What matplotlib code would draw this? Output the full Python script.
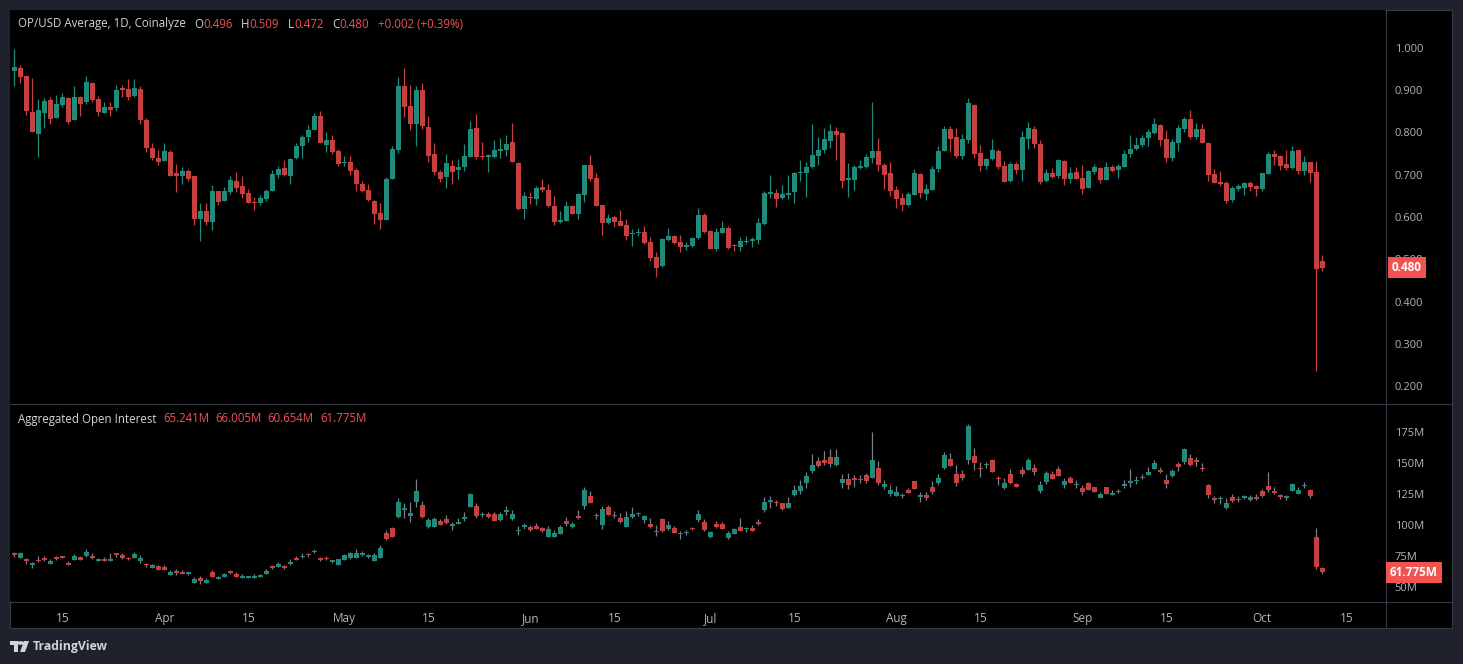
import numpy as np
import pandas as pd
import matplotlib
matplotlib.use("Agg")
import matplotlib.pyplot as plt
import matplotlib.dates as mdates
import matplotlib.transforms as mtrans
from matplotlib.patches import Rectangle, Circle, Polygon
from matplotlib.lines import Line2D

# ---------------- data ----------------
start_date = "2025-03-07"

price_open = [0.946, 0.953, 0.934, 0.849, 0.797, 0.847, 0.877, 0.835, 0.864, 0.882,
              0.830, 0.884, 0.873, 0.917, 0.879, 0.847, 0.860, 0.859, 0.905, 0.903,
              0.887, 0.903, 0.830, 0.764, 0.740, 0.733, 0.755, 0.704, 0.698, 0.709,
              0.696, 0.596, 0.614, 0.589, 0.662, 0.639, 0.660, 0.685, 0.673, 0.657,
              0.636, 0.632, 0.643, 0.662, 0.700, 0.716, 0.698, 0.740, 0.767, 0.789,
              0.807, 0.839, 0.771, 0.782, 0.756, 0.727, 0.730, 0.711, 0.678, 0.664,
              0.638, 0.609, 0.594, 0.691, 0.759, 0.910, 0.863, 0.819, 0.901, 0.813,
              0.749, 0.707, 0.695, 0.721, 0.712, 0.719, 0.743, 0.811, 0.744, 0.743,
              0.743, 0.757, 0.759, 0.777, 0.728, 0.619, 0.647, 0.643, 0.671, 0.664,
              0.626, 0.588, 0.591, 0.626, 0.608, 0.652, 0.723, 0.692, 0.628, 0.586,
              0.600, 0.590, 0.581, 0.560, 0.562, 0.564, 0.541, 0.505, 0.485, 0.546,
              0.555, 0.541, 0.528, 0.532, 0.551, 0.605, 0.567, 0.525, 0.563, 0.574,
              0.534, 0.530, 0.541, 0.544, 0.546, 0.584, 0.655, 0.657, 0.646, 0.653,
              0.658, 0.703, 0.705, 0.718, 0.745, 0.759, 0.780, 0.804, 0.799, 0.687,
              0.688, 0.716, 0.718, 0.740, 0.756, 0.723, 0.704, 0.664, 0.645, 0.628,
              0.652, 0.702, 0.654, 0.664, 0.714, 0.756, 0.808, 0.789, 0.744, 0.782,
              0.865, 0.751, 0.721, 0.737, 0.756, 0.721, 0.685, 0.725, 0.711, 0.785,
              0.808, 0.773, 0.685, 0.704, 0.697, 0.733, 0.690, 0.707, 0.692, 0.669,
              0.707, 0.716, 0.688, 0.718, 0.711, 0.718, 0.749, 0.761, 0.770, 0.787,
              0.799, 0.818, 0.785, 0.740, 0.775, 0.808, 0.832, 0.789, 0.808, 0.775,
              0.702, 0.683, 0.681, 0.640, 0.666, 0.669, 0.681, 0.673, 0.666, 0.702,
              0.749, 0.744, 0.725, 0.716, 0.759, 0.709, 0.730, 0.707, 0.496]
price_high = [0.998, 0.960, 0.936, 0.929, 0.879, 0.881, 0.883, 0.889, 0.894, 0.883,
              0.910, 0.886, 0.934, 0.920, 0.886, 0.872, 0.872, 0.912, 0.912, 0.927,
              0.927, 0.910, 0.834, 0.776, 0.759, 0.774, 0.759, 0.725, 0.719, 0.714,
              0.696, 0.634, 0.632, 0.676, 0.662, 0.671, 0.696, 0.707, 0.697, 0.666,
              0.647, 0.652, 0.666, 0.711, 0.721, 0.735, 0.740, 0.775, 0.794, 0.818,
              0.846, 0.851, 0.801, 0.794, 0.761, 0.744, 0.744, 0.716, 0.685, 0.678,
              0.640, 0.632, 0.695, 0.768, 0.931, 0.953, 0.912, 0.910, 0.917, 0.839,
              0.775, 0.711, 0.749, 0.735, 0.737, 0.773, 0.827, 0.844, 0.777, 0.749,
              0.782, 0.787, 0.794, 0.822, 0.730, 0.659, 0.659, 0.673, 0.690, 0.678,
              0.650, 0.614, 0.638, 0.628, 0.657, 0.723, 0.747, 0.704, 0.628, 0.607,
              0.602, 0.617, 0.595, 0.572, 0.574, 0.579, 0.553, 0.517, 0.550, 0.574,
              0.557, 0.557, 0.541, 0.553, 0.621, 0.610, 0.569, 0.574, 0.591, 0.579,
              0.537, 0.553, 0.555, 0.553, 0.598, 0.662, 0.699, 0.666, 0.676, 0.699,
              0.707, 0.735, 0.730, 0.820, 0.789, 0.811, 0.820, 0.813, 0.801, 0.728,
              0.723, 0.735, 0.749, 0.872, 0.787, 0.728, 0.730, 0.673, 0.657, 0.659,
              0.714, 0.704, 0.678, 0.721, 0.768, 0.815, 0.815, 0.811, 0.796, 0.882,
              0.868, 0.770, 0.740, 0.785, 0.761, 0.733, 0.730, 0.730, 0.804, 0.825,
              0.815, 0.782, 0.714, 0.716, 0.737, 0.735, 0.718, 0.718, 0.723, 0.711,
              0.725, 0.718, 0.730, 0.723, 0.725, 0.759, 0.794, 0.789, 0.794, 0.808,
              0.834, 0.820, 0.806, 0.785, 0.818, 0.837, 0.853, 0.822, 0.820, 0.777,
              0.714, 0.709, 0.685, 0.673, 0.678, 0.683, 0.685, 0.676, 0.704, 0.754,
              0.759, 0.747, 0.759, 0.768, 0.761, 0.744, 0.730, 0.733, 0.509]
price_low = [0.911, 0.918, 0.842, 0.802, 0.743, 0.811, 0.821, 0.835, 0.861, 0.821,
             0.830, 0.838, 0.868, 0.871, 0.840, 0.847, 0.840, 0.852, 0.885, 0.878,
             0.885, 0.821, 0.755, 0.736, 0.722, 0.733, 0.698, 0.658, 0.679, 0.686,
             0.582, 0.544, 0.582, 0.570, 0.629, 0.639, 0.655, 0.660, 0.646, 0.634,
             0.617, 0.629, 0.639, 0.662, 0.693, 0.698, 0.677, 0.737, 0.740, 0.778,
             0.807, 0.774, 0.754, 0.750, 0.721, 0.721, 0.700, 0.662, 0.658, 0.639,
             0.584, 0.572, 0.594, 0.691, 0.752, 0.837, 0.807, 0.769, 0.809, 0.729,
             0.700, 0.684, 0.669, 0.677, 0.691, 0.710, 0.743, 0.738, 0.738, 0.707,
             0.740, 0.740, 0.744, 0.729, 0.617, 0.595, 0.631, 0.628, 0.659, 0.624,
             0.580, 0.586, 0.591, 0.608, 0.596, 0.636, 0.685, 0.626, 0.557, 0.583,
             0.576, 0.579, 0.546, 0.531, 0.555, 0.535, 0.497, 0.459, 0.482, 0.544,
             0.536, 0.517, 0.523, 0.530, 0.549, 0.562, 0.525, 0.520, 0.563, 0.525,
             0.520, 0.520, 0.537, 0.530, 0.535, 0.580, 0.646, 0.624, 0.643, 0.643,
             0.634, 0.686, 0.648, 0.716, 0.722, 0.752, 0.763, 0.735, 0.669, 0.647,
             0.664, 0.714, 0.716, 0.728, 0.709, 0.666, 0.650, 0.621, 0.614, 0.626,
             0.652, 0.646, 0.640, 0.664, 0.706, 0.756, 0.754, 0.740, 0.737, 0.775,
             0.740, 0.709, 0.714, 0.735, 0.714, 0.683, 0.683, 0.702, 0.685, 0.761,
             0.763, 0.678, 0.683, 0.692, 0.692, 0.676, 0.681, 0.690, 0.654, 0.669,
             0.702, 0.681, 0.688, 0.706, 0.692, 0.718, 0.742, 0.759, 0.766, 0.768,
             0.796, 0.768, 0.730, 0.733, 0.756, 0.801, 0.785, 0.785, 0.775, 0.685,
             0.681, 0.673, 0.633, 0.635, 0.662, 0.652, 0.662, 0.650, 0.662, 0.702,
             0.723, 0.711, 0.711, 0.714, 0.702, 0.699, 0.683, 0.236, 0.472]
price_close = [0.955, 0.932, 0.852, 0.802, 0.853, 0.875, 0.833, 0.867, 0.884, 0.826,
               0.884, 0.868, 0.920, 0.877, 0.849, 0.860, 0.854, 0.901, 0.901, 0.885,
               0.905, 0.830, 0.764, 0.740, 0.731, 0.756, 0.698, 0.698, 0.709, 0.691,
               0.596, 0.614, 0.589, 0.662, 0.636, 0.662, 0.688, 0.669, 0.655, 0.634,
               0.632, 0.644, 0.662, 0.702, 0.714, 0.699, 0.737, 0.768, 0.789, 0.806,
               0.839, 0.774, 0.782, 0.755, 0.726, 0.730, 0.710, 0.677, 0.662, 0.641,
               0.608, 0.594, 0.690, 0.761, 0.910, 0.861, 0.821, 0.901, 0.816, 0.745,
               0.707, 0.691, 0.728, 0.707, 0.718, 0.744, 0.808, 0.743, 0.741, 0.746,
               0.759, 0.761, 0.773, 0.729, 0.619, 0.650, 0.645, 0.669, 0.664, 0.626,
               0.589, 0.593, 0.626, 0.608, 0.654, 0.723, 0.690, 0.626, 0.586, 0.598,
               0.588, 0.579, 0.555, 0.562, 0.564, 0.539, 0.504, 0.480, 0.548, 0.555,
               0.539, 0.528, 0.534, 0.550, 0.605, 0.565, 0.525, 0.565, 0.574, 0.527,
               0.531, 0.543, 0.544, 0.548, 0.586, 0.657, 0.659, 0.643, 0.654, 0.657,
               0.704, 0.707, 0.718, 0.747, 0.759, 0.785, 0.804, 0.794, 0.685, 0.692,
               0.718, 0.721, 0.742, 0.756, 0.723, 0.699, 0.662, 0.643, 0.628, 0.654,
               0.704, 0.657, 0.666, 0.714, 0.756, 0.808, 0.785, 0.744, 0.785, 0.870,
               0.749, 0.721, 0.737, 0.759, 0.718, 0.683, 0.725, 0.711, 0.789, 0.811,
               0.773, 0.683, 0.704, 0.695, 0.735, 0.690, 0.704, 0.690, 0.666, 0.709,
               0.718, 0.688, 0.718, 0.709, 0.721, 0.749, 0.761, 0.770, 0.787, 0.801,
               0.820, 0.782, 0.740, 0.777, 0.811, 0.832, 0.789, 0.808, 0.775, 0.699,
               0.681, 0.678, 0.638, 0.669, 0.673, 0.681, 0.671, 0.666, 0.704, 0.749,
               0.742, 0.721, 0.716, 0.756, 0.709, 0.730, 0.704, 0.478, 0.480]

oi_open = [76.6, 73.6, 71.8, 68.0, 72.0, 73.6, 68.8, 73.6, 75.0, 69.4,
           71.8, 74.2, 75.0, 75.2, 71.3, 72.6, 71.0, 76.6, 75.8, 73.4,
           73.4, 71.0, 68.2, 65.6, 66.9, 66.1, 59.7, 62.4, 62.4, 60.7,
           53.2, 57.2, 53.2, 62.1, 56.7, 58.1, 62.4, 60.5, 57.2, 57.5,
           57.5, 58.1, 60.5, 66.4, 66.1, 66.9, 68.5, 72.6, 74.2, 76.6,
           79.0, 73.4, 73.4, 70.4, 67.7, 71.8, 73.4, 73.4, 75.8, 74.5,
           71.0, 73.4, 93.5, 97.6, 106.4, 112.4, 107.3, 118.5, 116.1, 98.4,
           98.4, 103.2, 104.8, 99.5, 100.8, 104.8, 114.5, 115.3, 107.8, 108.9,
           108.9, 104.0, 110.8, 104.8, 94.9, 98.6, 98.4, 99.2, 97.6, 90.3,
           90.3, 92.7, 103.2, 98.4, 107.3, 115.3, 123.4, 108.1, 100.0, 114.5,
           108.1, 105.6, 98.4, 106.4, 109.4, 104.0, 100.8, 95.2, 104.8, 96.8,
           97.6, 93.5, 93.5, 97.6, 104.0, 102.4, 90.3, 100.8, 100.8, 89.5,
           92.7, 98.4, 96.5, 97.6, 101.6, 112.1, 118.8, 118.3, 117.5, 113.7,
           124.2, 127.4, 133.9, 143.5, 151.6, 152.4, 154.8, 148.4, 133.9, 137.1,
           137.9, 137.1, 140.3, 137.9, 146.0, 130.7, 125.0, 123.4, 123.4, 128.2,
           135.5, 122.9, 124.2, 130.7, 133.9, 146.0, 153.2, 141.1, 141.1, 152.4,
           155.6, 145.4, 148.1, 152.4, 137.4, 129.9, 141.1, 133.1, 144.3, 144.3,
           146.0, 127.4, 134.7, 141.1, 145.2, 132.3, 137.9, 132.0, 129.9, 133.9,
           130.7, 121.8, 130.7, 124.5, 126.4, 131.7, 134.2, 135.5, 137.9, 140.3,
           145.2, 144.3, 136.3, 139.5, 149.2, 150.8, 154.0, 151.9, 146.0, 132.3,
           121.0, 120.7, 113.7, 122.6, 121.2, 122.1, 120.2, 122.1, 127.4, 131.5,
           127.4, 123.7, 122.1, 127.4, 125.0, 131.5, 128.2, 90.3, 65.241]
oi_high = [78.2, 78.2, 73.4, 70.2, 75.0, 75.0, 72.9, 75.0, 75.0, 71.0,
           76.6, 75.0, 80.6, 77.4, 73.4, 74.2, 77.4, 76.6, 77.4, 74.2,
           78.2, 75.8, 69.4, 68.5, 67.7, 67.7, 63.7, 64.5, 63.7, 62.4,
           58.1, 58.9, 57.2, 63.7, 58.9, 61.3, 63.7, 62.1, 60.5, 58.9,
           60.5, 60.5, 64.5, 67.7, 70.2, 67.7, 72.6, 75.0, 77.4, 77.4,
           80.6, 74.2, 75.0, 71.0, 72.6, 76.6, 78.2, 80.6, 79.0, 76.6,
           77.4, 83.8, 96.0, 98.4, 121.8, 117.7, 118.5, 137.1, 119.3, 105.6,
           106.4, 104.8, 108.1, 102.4, 105.6, 110.5, 125.8, 117.7, 110.5, 110.5,
           110.5, 110.5, 115.3, 112.1, 99.2, 101.6, 100.0, 101.6, 98.4, 99.2,
           96.0, 100.0, 106.4, 102.4, 112.1, 130.6, 127.4, 109.7, 115.3, 116.1,
           111.3, 109.7, 111.3, 114.5, 110.5, 108.1, 105.6, 100.0, 105.6, 103.2,
           99.2, 95.2, 96.0, 98.4, 112.1, 104.8, 95.2, 103.2, 102.4, 95.2,
           97.6, 105.6, 98.4, 100.0, 104.8, 122.6, 123.4, 120.2, 117.7, 122.6,
           132.3, 136.3, 142.7, 157.3, 154.8, 159.7, 161.3, 161.3, 141.1, 141.9,
           140.3, 140.3, 141.9, 175.0, 151.6, 136.3, 132.3, 131.5, 125.8, 129.9,
           135.5, 126.6, 126.6, 135.5, 141.1, 158.9, 158.1, 148.4, 144.3, 181.5,
           162.1, 150.8, 150.8, 153.2, 139.5, 137.9, 145.2, 133.9, 146.8, 154.0,
           149.2, 135.5, 143.5, 143.5, 147.6, 137.9, 139.5, 136.3, 132.3, 134.7,
           130.7, 126.6, 130.7, 128.2, 129.0, 136.3, 145.2, 139.5, 141.1, 146.8,
           152.4, 146.8, 141.1, 145.2, 150.8, 162.1, 157.3, 154.8, 150.0, 133.1,
           123.4, 123.4, 121.8, 125.0, 123.4, 124.2, 124.2, 125.0, 129.0, 142.7,
           130.7, 125.0, 124.2, 133.9, 130.7, 134.7, 129.0, 97.6, 66.005]
oi_low = [73.9, 73.4, 68.8, 65.6, 70.4, 71.2, 68.8, 72.0, 73.4, 67.7,
          71.8, 71.8, 74.2, 72.6, 71.3, 71.0, 71.0, 73.9, 72.6, 71.8,
          73.4, 69.4, 66.4, 65.6, 63.9, 63.9, 59.7, 59.9, 60.7, 59.7,
          53.2, 52.7, 53.2, 58.1, 56.7, 58.1, 60.5, 58.1, 57.2, 57.2,
          57.2, 58.1, 60.5, 64.5, 66.1, 64.5, 67.7, 71.8, 73.4, 74.2,
          77.4, 71.0, 71.8, 69.4, 67.7, 71.8, 72.6, 73.4, 75.0, 73.4,
          71.0, 73.4, 87.9, 90.3, 105.6, 105.6, 102.4, 114.5, 105.6, 97.6,
          98.4, 100.0, 100.8, 96.0, 100.8, 103.2, 114.5, 105.6, 106.4, 105.6,
          103.2, 103.2, 108.1, 104.0, 91.9, 96.8, 95.2, 96.8, 94.4, 90.3,
          90.3, 92.7, 99.2, 97.6, 104.8, 112.9, 117.7, 104.8, 96.8, 108.1,
          105.6, 101.6, 98.4, 105.6, 107.3, 101.6, 97.6, 91.1, 94.4, 96.0,
          93.5, 88.7, 91.9, 96.0, 102.4, 95.2, 89.5, 97.6, 96.8, 88.7,
          92.7, 95.2, 94.4, 95.2, 100.0, 110.5, 113.7, 115.3, 112.1, 113.7,
          123.4, 125.0, 129.9, 141.9, 146.8, 148.4, 146.8, 147.6, 129.9, 129.1,
          130.7, 133.9, 133.9, 137.9, 132.3, 129.1, 123.4, 123.4, 121.8, 125.8,
          129.0, 118.5, 120.2, 125.0, 132.3, 145.2, 147.6, 131.5, 136.3, 149.2,
          144.3, 138.7, 146.0, 142.7, 132.3, 129.0, 133.1, 130.7, 139.5, 144.3,
          140.3, 125.8, 133.1, 137.1, 139.5, 129.9, 133.9, 129.9, 124.2, 128.2,
          126.6, 121.8, 125.0, 124.2, 125.8, 129.9, 130.7, 133.1, 137.1, 140.3,
          145.2, 141.9, 129.9, 138.7, 143.5, 149.2, 147.6, 147.6, 143.5, 121.8,
          117.7, 117.0, 112.9, 118.5, 118.5, 121.0, 119.4, 120.2, 122.6, 126.6,
          125.0, 121.0, 120.2, 127.4, 125.0, 129.9, 121.8, 64.5, 60.654]
oi_close = [76.1, 77.4, 71.3, 68.8, 71.0, 72.0, 71.0, 72.9, 73.6, 68.0,
            75.0, 71.8, 78.2, 73.4, 71.8, 71.0, 72.6, 76.1, 73.4, 72.6,
            76.6, 73.4, 67.7, 67.7, 63.9, 63.9, 62.1, 61.6, 60.7, 61.3,
            56.4, 54.8, 55.6, 58.1, 57.5, 60.5, 61.6, 58.1, 58.9, 58.1,
            58.3, 59.7, 62.9, 65.6, 68.5, 65.3, 70.2, 72.0, 75.0, 75.8,
            78.2, 71.8, 72.6, 71.0, 72.6, 75.8, 77.4, 77.4, 77.4, 75.3,
            75.8, 81.4, 88.7, 90.6, 118.5, 112.9, 109.7, 127.4, 106.4, 104.0,
            104.8, 100.0, 101.6, 100.0, 102.4, 106.4, 125.0, 107.3, 108.6, 106.4,
            103.2, 108.9, 111.6, 108.9, 95.7, 99.4, 96.0, 96.8, 95.2, 96.8,
            93.5, 98.4, 100.8, 100.8, 105.6, 128.2, 117.7, 107.3, 112.9, 108.1,
            107.3, 102.4, 106.4, 108.9, 108.6, 107.3, 98.4, 94.1, 95.2, 100.0,
            93.5, 92.7, 94.6, 96.5, 108.9, 96.0, 94.4, 98.4, 96.8, 93.5,
            96.8, 95.2, 96.8, 95.2, 101.1, 118.5, 119.6, 117.5, 112.9, 117.7,
            128.2, 131.5, 139.5, 148.4, 147.6, 150.0, 149.2, 154.8, 137.1, 132.3,
            136.3, 136.3, 135.5, 152.4, 133.9, 133.1, 128.2, 126.6, 124.2, 125.8,
            129.0, 124.0, 121.8, 126.6, 137.9, 156.5, 147.6, 133.9, 137.9, 179.8,
            150.0, 144.9, 148.9, 142.7, 136.9, 133.9, 133.9, 130.7, 141.1, 152.4,
            142.7, 132.3, 141.9, 137.1, 139.5, 135.5, 133.9, 132.8, 126.6, 128.2,
            126.6, 125.0, 125.0, 125.3, 127.2, 132.5, 134.9, 136.3, 138.7, 142.7,
            150.0, 142.7, 133.1, 143.5, 146.8, 161.3, 148.4, 151.1, 145.2, 124.2,
            120.4, 121.2, 117.7, 119.3, 120.2, 122.9, 122.6, 121.2, 123.4, 128.2,
            126.1, 122.9, 122.9, 133.1, 128.2, 132.3, 123.4, 66.1, 61.775]

tick_dates = ["2025-03-15", "2025-04-01", "2025-04-15", "2025-05-01", "2025-05-15",
              "2025-06-01", "2025-06-15", "2025-07-01", "2025-07-15", "2025-08-01",
              "2025-08-15", "2025-09-01", "2025-09-15", "2025-10-01", "2025-10-15"]
tick_labels = ["15", "Apr", "15", "May", "15", "Jun", "15", "Jul", "15", "Aug",
               "15", "Sep", "15", "Oct", "15"]
price_ticks = [0.2, 0.3, 0.4, 0.5, 0.6, 0.7, 0.8, 0.9, 1.0]
oi_ticks = [50, 75, 100, 125, 150, 175]

title_text = "OP/USD Average, 1D, Coinalyze"
change_text = "+0.002 (+0.39%)"
oi_title = "Aggregated Open Interest"

# ---------------- style ----------------
W, H = 1463, 664
BG = "#1f222d"
UP = "#1f8c7b"
DOWN = "#c5403f"
TXT = "#d1d4dc"
AXTXT = "#b2b5be"
RED_TXT = "#f0525a"
LINE = "#363a45"
FONT = "Open Sans"

fig = plt.figure(figsize=(W / 100, H / 100), dpi=100, facecolor=BG)


def fx(px):
    return px / W


def fy(py):
    return 1 - py / H


# black chart frame (behind the axes)
frame = Rectangle((fx(10), fy(628)), fx(1442), 618 / H, transform=fig.transFigure,
                  facecolor="black", edgecolor=LINE, lw=0.8, zorder=-10)
fig.patches.append(frame)

ax1 = fig.add_axes([fx(10), fy(403), fx(1375), 393 / H])
ax2 = fig.add_axes([fx(10), fy(601), fx(1375), 198 / H], sharex=ax1)

dates = pd.date_range(start_date, periods=len(price_open), freq="D")
xs = mdates.date2num(dates)


def draw_candles(ax, x, o, h, l, c, wick=None, min_h=0.0):
    o, h, l, c = map(np.asarray, (o, h, l, c))
    cols = np.where(c >= o, UP, DOWN)
    wcols = cols if wick is None else wick
    ax.vlines(x, l, h, colors=wcols, lw=0.9, zorder=2)
    bottom = np.minimum(o, c)
    height = np.maximum(np.abs(c - o), min_h)
    ax.bar(x, height, bottom=bottom, width=0.82, color=cols, lw=0, zorder=3)


draw_candles(ax1, xs, price_open, price_high, price_low, price_close, min_h=0.003)
draw_candles(ax2, xs, oi_open, oi_high, oi_low, oi_close, wick="#7c7f88", min_h=1.0)

for ax in (ax1, ax2):
    ax.set_facecolor("black")
    for s in ax.spines.values():
        s.set_visible(False)
    ax.yaxis.tick_right()
    ax.tick_params(axis="y", length=0, pad=7, colors=AXTXT, labelsize=8)

ax1.set_xlim(xs[0] - 0.72, xs[0] + 228.45)
ax1.set_ylim(0.1598, 1.0899)
ax2.set_ylim(38.71, 198.39)

ax1.set_yticks(price_ticks)
ax1.set_yticklabels([f"{v:.3f}" for v in price_ticks], family=FONT)
ax2.set_yticks(oi_ticks)
ax2.set_yticklabels([f"{v}M" for v in oi_ticks], family=FONT)

ax2.set_xticks(mdates.date2num(pd.to_datetime(tick_dates)))
ax2.set_xticklabels(tick_labels, family=FONT)
ax2.tick_params(axis="x", length=0, pad=8, colors=AXTXT, labelsize=8.5)
ax1.tick_params(axis="x", length=0, labelbottom=False)

# separators
for (x0, y0, x1, y1) in [(1385.5, 10, 1385.5, 628), (10, 403.5, 1452, 403.5), (10, 601.5, 1452, 601.5)]:
    fig.add_artist(Line2D([fx(x0), fx(x1)], [fy(y0), fy(y1)], color=LINE, lw=0.8, transform=fig.transFigure))

# last value labels
tr1 = mtrans.blended_transform_factory(fig.transFigure, ax1.transData)
fig.text(fx(1407), price_close[-1], f"{price_close[-1]:.3f}", transform=tr1, ha="center", va="center",
         color="white", fontsize=8.5, fontweight="bold", family=FONT, zorder=10,
         bbox=dict(boxstyle="square,pad=0.33", fc="#f05350", ec="none"))
tr2 = mtrans.blended_transform_factory(fig.transFigure, ax2.transData)
fig.text(fx(1414), oi_close[-1], f"{oi_close[-1]:.3f}M", transform=tr2, ha="center", va="center",
         color="white", fontsize=8.5, fontweight="bold", family=FONT, zorder=10,
         bbox=dict(boxstyle="square,pad=0.33", fc="#f05350", ec="none"))

renderer = fig.canvas.get_renderer()


def chain(x_px, y_px, segs, size):
    cur = x_px
    for text, color, gap in segs:
        cur += gap
        t = fig.text(fx(cur), fy(y_px), text, color=color, fontsize=size, family=FONT,
                     ha="left", va="center")
        cur += t.get_window_extent(renderer).width


chain(18, 24, [(title_text, TXT, 0),
               ("O", TXT, 8), (f"{price_open[-1]:.3f}", RED_TXT, 0),
               ("H", TXT, 9), (f"{price_high[-1]:.3f}", RED_TXT, 0),
               ("L", TXT, 9), (f"{price_low[-1]:.3f}", RED_TXT, 0),
               ("C", TXT, 9), (f"{price_close[-1]:.3f}", RED_TXT, 0),
               (change_text, RED_TXT, 9)], 8.3)
chain(18, 419, [(oi_title, TXT, 0),
                (f"{oi_open[-1]:.3f}M", RED_TXT, 7), (f"{oi_high[-1]:.3f}M", RED_TXT, 6),
                (f"{oi_low[-1]:.3f}M", RED_TXT, 6), (f"{oi_close[-1]:.3f}M", RED_TXT, 6)], 8.3)

# TradingView logo
fig.add_artist(Polygon([(fx(10), fy(641)), (fx(18), fy(641)), (fx(18), fy(652)), (fx(14), fy(652)),
                        (fx(14), fy(645)), (fx(10), fy(645))], closed=True, transform=fig.transFigure,
                       fc=TXT, ec="none"))
fig.add_artist(Circle((fx(20.5), fy(643)), 1.8 / H, transform=fig.transFigure, fc=TXT, ec="none"))
fig.add_artist(Polygon([(fx(24), fy(641)), (fx(29), fy(641)), (fx(25), fy(652)), (fx(20), fy(652))],
                       closed=True, transform=fig.transFigure, fc=TXT, ec="none"))
fig.text(fx(33), fy(646.5), "TradingView", color=TXT, fontsize=8.8, fontweight="bold",
         family=FONT, ha="left", va="center")

fig.savefig("out.png", dpi=100, facecolor=BG)
